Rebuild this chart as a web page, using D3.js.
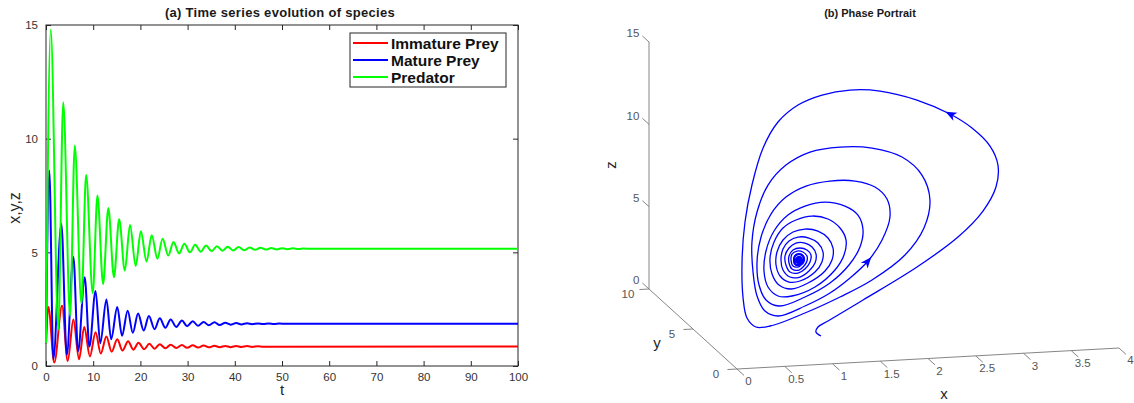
<!DOCTYPE html>
<html>
<head>
<meta charset="utf-8">
<script src="https://cdn.jsdelivr.net/npm/d3@7"></script>
<style>
body { margin: 0; background: #fff; }
svg { font-family: "Liberation Sans", Arial, Helvetica, sans-serif; }
</style>
</head>
<body>
<div id="chart"></div>
<script>
var immatureT = [0, 0.5, 1.75, 3.4, 4.6, 5.8, 7.0, 8.1, 9.3, 10.5, 11.6, 12.8, 13.9, 15.1, 16.2, 17.4,
  18.5, 19.6, 20.8, 21.9, 23.0, 24.1, 25.3, 26.4, 27.6, 28.8, 29.9, 31.1, 32.2, 33.4, 34.5, 35.7,
  36.8, 38.0, 39.1, 40.3, 41.4, 42.6, 43.7, 44.9, 46.0, 100];
var immatureV = [1.0, 2.6, 0.15, 2.65, 0.22, 2.05, 0.3, 1.72, 0.42, 1.48, 0.55, 1.3, 0.63, 1.18, 0.68, 1.09,
  0.72, 1.02, 0.74, 0.98, 0.76, 0.96, 0.78, 0.94, 0.79, 0.92, 0.8, 0.91, 0.81, 0.9, 0.82, 0.89,
  0.825, 0.885, 0.83, 0.88, 0.835, 0.875, 0.84, 0.87, 0.85, 0.86];

var matureT = [0, 0.7, 1.55, 3.25, 4.4, 5.8, 6.8, 8.2, 9.2, 10.5, 11.5, 12.8, 13.8, 15.1, 16.1, 17.3,
  18.4, 19.5, 20.7, 21.8, 23.0, 24.1, 25.3, 26.4, 27.6, 28.8, 29.9, 31.1, 32.2, 33.4, 34.5, 35.7,
  36.8, 38.0, 39.1, 40.3, 41.4, 42.6, 43.7, 44.9, 46.0, 47.2, 48.3, 49.5, 50.6, 51.8, 53.0, 100];
var matureV = [1.0, 8.6, 0.3, 6.25, 0.5, 4.8, 0.65, 3.9, 0.85, 3.3, 1.0, 2.92, 1.18, 2.6, 1.33, 2.43,
  1.46, 2.31, 1.56, 2.2, 1.62, 2.1, 1.68, 2.05, 1.72, 2.0, 1.75, 1.97, 1.77, 1.94, 1.79, 1.92,
  1.8, 1.9, 1.82, 1.89, 1.83, 1.88, 1.84, 1.875, 1.845, 1.87, 1.85, 1.865, 1.855, 1.862, 1.86, 1.86];

var predatorT = [0, 1.0, 2.6, 3.65, 5.1, 6.1, 7.5, 8.5, 9.9, 10.9, 12.1, 13.2, 14.4, 15.5, 16.7, 17.8,
  19.0, 20.1, 21.3, 22.4, 23.6, 24.7, 25.9, 27.0, 28.2, 29.3, 30.5, 31.6, 32.8, 33.9, 35.1, 36.2,
  37.4, 38.5, 39.7, 40.8, 42.0, 43.1, 44.3, 45.4, 46.6, 47.7, 48.9, 50.0, 51.2, 52.3, 53.5, 54.6, 56.0, 100];
var predatorV = [1.0, 14.8, 1.6, 11.6, 2.2, 9.7, 2.75, 8.4, 3.2, 7.5, 3.6, 6.95, 3.9, 6.45, 4.2, 6.2,
  4.4, 5.93, 4.6, 5.75, 4.72, 5.6, 4.86, 5.46, 4.95, 5.38, 5.0, 5.33, 5.03, 5.3, 5.05, 5.27,
  5.07, 5.25, 5.08, 5.23, 5.09, 5.21, 5.11, 5.2, 5.12, 5.19, 5.13, 5.18, 5.14, 5.175, 5.15, 5.165, 5.16, 5.16];

var seriesNames = ["Immature Prey", "Mature Prey", "Predator"];
var seriesColors = ["#ff0000", "#0000ff", "#00ff00"];
var timeTicks = [0, 10, 20, 30, 40, 50, 60, 70, 80, 90, 100];
var popTicks = [0, 5, 10, 15];

// ---- (b) phase portrait, points traced along the spiral (x, y, z)
var phaseX = [0.972, 0.919, 0.940, 1.045, 1.504, 2.069, 2.498, 2.760, 2.896, 3.009, 3.018, 2.829, 2.599, 2.253,
  1.866, 1.552, 1.259, 0.915, 0.706, 0.457, 0.341, 0.268, 0.237, 0.248, 0.289, 0.383, 0.530,
  0.896, 1.263, 1.598, 1.943, 2.142, 2.205, 2.121, 1.912, 1.598, 1.263, 0.949, 0.697, 0.509, 0.394,
  0.341, 0.352, 0.394, 0.477, 0.614,
  0.896, 1.158, 1.368, 1.556, 1.703, 1.786, 1.755, 1.629, 1.420, 1.158, 0.907, 0.697, 0.540, 0.436,
  0.394, 0.415, 0.488, 0.624,
  0.896, 1.158, 1.357, 1.472, 1.504, 1.451, 1.315, 1.106, 0.896, 0.718, 0.572, 0.488, 0.467, 0.509,
  0.614, 0.760,
  1.001, 1.210, 1.305, 1.326, 1.263, 1.137, 0.970, 0.802, 0.666, 0.572, 0.530, 0.551, 0.624, 0.750,
  0.928, 1.106, 1.179, 1.190, 1.137, 1.032, 0.896, 0.771, 0.666, 0.603, 0.593, 0.635, 0.729, 0.844,
  1.001, 1.074, 1.085, 1.032, 0.938, 0.823, 0.729, 0.666, 0.645, 0.666, 0.739, 0.844,
  0.938, 1.001, 1.012, 0.970, 0.896, 0.802, 0.729, 0.687, 0.697, 0.739, 0.823, 0.896,
  0.949, 0.959, 0.917, 0.844, 0.771, 0.729, 0.729, 0.760, 0.834, 0.886,
  0.917, 0.917, 0.875, 0.813, 0.760, 0.750, 0.771, 0.823, 0.865,
  0.886, 0.875, 0.834, 0.792, 0.781, 0.792, 0.834, 0.854,
  0.865, 0.844, 0.813, 0.802, 0.823, 0.844, 0.834, 0.813, 0.823,
  0.839, 0.839, 0.818, 0.828, 0.828];
var phaseY = [1, 1, 1, 1, 2, 2, 2, 2, 2, 3, 4, 4, 4, 4, 4, 4, 4, 3, 3, 2, 2, 2, 2, 2, 2, 2, 2,
  2, 2, 2, 2, 2, 2, 2, 2, 2, 2, 2, 2, 2, 2, 2, 2, 2, 2, 2,
  2, 2, 2, 2, 2, 2, 2, 2, 2, 2, 2, 2, 2, 2, 2, 2, 2, 2,
  2, 2, 2, 2, 2, 2, 2, 2, 2, 2, 2, 2, 2, 2, 2, 2,
  2, 2, 2, 2, 2, 2, 2, 2, 2, 2, 2, 2, 2, 2,
  2, 2, 2, 2, 2, 2, 2, 2, 2, 2, 2, 2, 2, 2,
  2, 2, 2, 2, 2, 2, 2, 2, 2, 2, 2, 2,
  2, 2, 2, 2, 2, 2, 2, 2, 2, 2, 2, 2,
  2, 2, 2, 2, 2, 2, 2, 2, 2, 2,
  2, 2, 2, 2, 2, 2, 2, 2, 2,
  2, 2, 2, 2, 2, 2, 2, 2,
  2, 2, 2, 2, 2, 2, 2, 2, 2,
  2, 2, 2, 2, 2];
var phaseZ = [1.208, 1.468, 1.764, 2.095, 2.738, 4.562, 6.246, 7.741, 9.155, 9.970, 10.635, 11.788, 12.712, 13.672,
  14.341, 14.502, 14.292, 14.281, 13.315, 12.301, 10.092, 7.868, 5.450, 3.260, 2.033, 1.457, 1.471,
  2.143, 2.998, 3.923, 5.331, 6.907, 8.587, 10.131, 11.291, 11.937, 12.105, 11.902, 11.192, 10.038, 8.435,
  6.631, 4.806, 3.335, 2.398, 2.051,
  2.568, 3.274, 4.118, 5.090, 6.318, 7.688, 8.791, 9.560, 9.991, 10.074, 9.851, 9.250, 8.267, 6.904,
  5.400, 3.996, 3.063, 2.655,
  3.114, 3.881, 4.911, 5.967, 6.988, 7.916, 8.506, 8.815, 8.639, 8.150, 7.225, 6.038, 4.830, 3.845,
  3.265, 3.219,
  3.688, 4.654, 5.534, 6.438, 7.187, 7.774, 8.009, 7.820, 7.377, 6.557, 5.599, 4.621, 3.930, 3.647,
  3.954, 4.626, 5.271, 5.996, 6.620, 7.078, 7.243, 7.101, 6.648, 5.940, 5.154, 4.473, 4.078, 4.103,
  4.599, 5.183, 5.786, 6.350, 6.683, 6.781, 6.568, 6.102, 5.441, 4.827, 4.379, 4.345,
  4.679, 5.145, 5.689, 6.127, 6.393, 6.423, 6.143, 5.670, 5.121, 4.682, 4.595, 4.814,
  5.223, 5.644, 5.961, 6.106, 6.008, 5.657, 5.232, 4.858, 4.774, 5.000,
  5.293, 5.597, 5.853, 5.934, 5.769, 5.407, 5.036, 4.959, 5.128,
  5.364, 5.610, 5.745, 5.637, 5.398, 5.151, 5.077, 5.192,
  5.371, 5.560, 5.509, 5.330, 5.202, 5.317, 5.441, 5.387, 5.324,
  5.288, 5.409, 5.386, 5.291, 5.352];
var arrowAt = [12, 49];
var xTicks3 = [0, 0.5, 1, 1.5, 2, 2.5, 3, 3.5, 4];
var yTicks3 = [0, 5, 10];
var zTicks3 = [0, 5, 10, 15];

var svg = d3.select("#chart").append("svg")
    .attr("width", 1134)
    .attr("height", 403);

// ================= (a) =================
var x = d3.scaleLinear().domain([0, 100]).range([46, 518]);
var y = d3.scaleLinear().domain([0, 15]).range([366, 25]);

var gA = svg.append("g");

function styleAxis(g) {
  g.select(".domain").remove();
  g.selectAll("line").attr("stroke", "#262626");
  g.selectAll("text").attr("fill", "#333").style("font-size", "11.5px");
}

gA.append("g")
    .attr("transform", "translate(0," + y(0) + ")")
    .call(d3.axisBottom(x).tickValues(timeTicks).tickSizeInner(-5).tickSizeOuter(0).tickPadding(7))
    .call(styleAxis);
gA.append("g")
    .attr("transform", "translate(0," + y(15) + ")")
    .call(d3.axisTop(x).tickValues(timeTicks).tickSizeInner(-5).tickSizeOuter(0).tickFormat(""))
    .call(styleAxis);
gA.append("g")
    .attr("transform", "translate(" + x(0) + ",0)")
    .call(d3.axisLeft(y).tickValues(popTicks).tickSizeInner(-5).tickSizeOuter(0).tickPadding(8))
    .call(styleAxis);
gA.append("g")
    .attr("transform", "translate(" + x(100) + ",0)")
    .call(d3.axisRight(y).tickValues(popTicks).tickSizeInner(-5).tickSizeOuter(0).tickFormat(""))
    .call(styleAxis);

gA.append("rect")
    .attr("x", x(0)).attr("y", y(15))
    .attr("width", x(100) - x(0)).attr("height", y(0) - y(15))
    .attr("fill", "none").attr("stroke", "#262626").attr("stroke-width", 1);

var series = [
  {t: immatureT, v: immatureV},
  {t: matureT, v: matureV},
  {t: predatorT, v: predatorV}
];

var line = d3.line()
    .x(function(d) { return x(d[0]); })
    .y(function(d) { return y(d[1]); })
    .curve(d3.curveMonotoneX);

series.forEach(function(s, i) {
  var pts = s.t.map(function(t, k) { return [t, s.v[k]]; });
  gA.append("path")
      .attr("d", line(pts))
      .attr("fill", "none")
      .attr("stroke", seriesColors[i])
      .attr("stroke-width", 2)
      .attr("stroke-linejoin", "round");
});

gA.append("text")
    .attr("x", 280).attr("y", 17)
    .attr("text-anchor", "middle")
    .style("font-size", "13px").style("font-weight", "bold")
    .style("letter-spacing", "0.3px")
    .attr("fill", "#1a1a1a")
    .text("(a) Time series evolution of species");

gA.append("text")
    .attr("x", 282).attr("y", 395)
    .attr("text-anchor", "middle")
    .style("font-size", "15px")
    .attr("fill", "#262626")
    .text("t");

gA.append("text")
    .attr("transform", "translate(20,208) rotate(-90)")
    .attr("text-anchor", "middle")
    .style("font-size", "16px")
    .attr("fill", "#262626")
    .text("x,y,z");

// legend
var legend = gA.append("g");
legend.append("rect")
    .attr("x", 350).attr("y", 33)
    .attr("width", 156).attr("height", 54)
    .attr("fill", "#fff").attr("stroke", "#262626");
var item = legend.selectAll("g.item")
    .data(seriesNames)
    .enter().append("g")
      .attr("class", "item")
      .attr("transform", function(d, i) { return "translate(0," + (43 + i * 17) + ")"; });
item.append("line")
    .attr("x1", 353).attr("x2", 388)
    .attr("stroke", function(d, i) { return seriesColors[i]; })
    .attr("stroke-width", 2);
item.append("text")
    .attr("x", 391).attr("dy", "0.36em")
    .style("font-size", "15.5px").style("font-weight", "bold")
    .attr("fill", "#111")
    .text(function(d) { return d; });

// ================= (b) =================
var O = [737, 369];
var xsx = d3.scaleLinear().domain([0, 4]).range([0, 382]),
    xsy = d3.scaleLinear().domain([0, 4]).range([0, -21]),
    ysx = d3.scaleLinear().domain([0, 10]).range([0, -88]),
    ysy = d3.scaleLinear().domain([0, 10]).range([0, -80]),
    zsy = d3.scaleLinear().domain([0, 15]).range([0, -247]);

function proj(a, b, c) {
  return [O[0] + xsx(a) + ysx(b), O[1] + xsy(a) + ysy(b) + zsy(c)];
}

var gB = svg.append("g");
var axisCol = "#858585", tickTextCol = "#555";

function seg(p, q) {
  gB.append("line")
      .attr("x1", p[0]).attr("y1", p[1])
      .attr("x2", q[0]).attr("y2", q[1])
      .attr("stroke", axisCol).attr("stroke-width", 1);
}
function tickText(p, txt, anchor) {
  gB.append("text")
      .attr("x", p[0]).attr("y", p[1])
      .attr("dy", "0.35em")
      .attr("text-anchor", anchor)
      .style("font-size", "11.5px")
      .attr("fill", tickTextCol)
      .text(txt);
}

seg(proj(0, 0, 0), proj(4, 0, 0));
seg(proj(0, 0, 0), proj(0, 10, 0));
seg(proj(0, 10, 0), proj(0, 10, 15));

xTicks3.forEach(function(v) {
  seg(proj(v, 0, 0), proj(v, -0.8, 0));
  var p = proj(v, -1.3, 0);
  tickText([p[0], p[1] + 2], v, "middle");
});
yTicks3.forEach(function(v) {
  seg(proj(0, v, 0), proj(-0.1, v, 0));
  var p = proj(-0.22, v, 0);
  tickText([p[0], p[1] + 4], v, "middle");
});
zTicks3.forEach(function(v) {
  seg(proj(0, 10, v), proj(0, 10.75, v));
  var p = proj(0, 11.1, v);
  tickText([p[0], p[1]], v, "end");
});

gB.append("text").attr("x", 944).attr("y", 399)
    .attr("text-anchor", "middle").style("font-size", "15px").attr("fill", "#262626").text("x");
gB.append("text").attr("x", 657).attr("y", 348)
    .attr("text-anchor", "middle").style("font-size", "15px").attr("fill", "#262626").text("y");
gB.append("text").attr("transform", "translate(616,165) rotate(-90)")
    .attr("text-anchor", "middle").style("font-size", "15px").attr("fill", "#262626").text("z");

gB.append("text")
    .attr("x", 870).attr("y", 17)
    .attr("text-anchor", "middle")
    .style("font-size", "11px").style("font-weight", "bold")
    .attr("fill", "#1a1a1a")
    .text("(b) Phase Portrait");

var phasePts = phaseX.map(function(v, i) { return proj(v, phaseY[i], phaseZ[i]); });

gB.append("path")
    .attr("d", d3.line().curve(d3.curveCatmullRom.alpha(0.5))(phasePts))
    .attr("fill", "none")
    .attr("stroke", "#0000ff")
    .attr("stroke-width", 1.3)
    .attr("stroke-linejoin", "round");

// the innermost turns are drawn a little heavier, as in the source they merge into a blob
gB.append("path")
    .attr("d", d3.line().curve(d3.curveCatmullRom.alpha(0.5))(phasePts.slice(150)))
    .attr("fill", "none")
    .attr("stroke", "#0000ff")
    .attr("stroke-width", 2.2)
    .attr("stroke-linejoin", "round");

arrowAt.forEach(function(i) {
  var a = phasePts[i - 1], b = phasePts[i + 1], p = phasePts[i];
  var dx = b[0] - a[0], dy = b[1] - a[1], L = Math.sqrt(dx * dx + dy * dy);
  dx /= L; dy /= L;
  var tip = [p[0] + dx * 5, p[1] + dy * 5];
  var base = [p[0] - dx * 6, p[1] - dy * 6];
  var nx = -dy, ny = dx;
  gB.append("path")
      .attr("d", "M" + tip + "L" + [base[0] + nx * 4.5, base[1] + ny * 4.5] +
                 "L" + [p[0] - dx * 3, p[1] - dy * 3] +
                 "L" + [base[0] - nx * 4.5, base[1] - ny * 4.5] + "Z")
      .attr("fill", "#0000ff");
});
</script>
</body>
</html>
